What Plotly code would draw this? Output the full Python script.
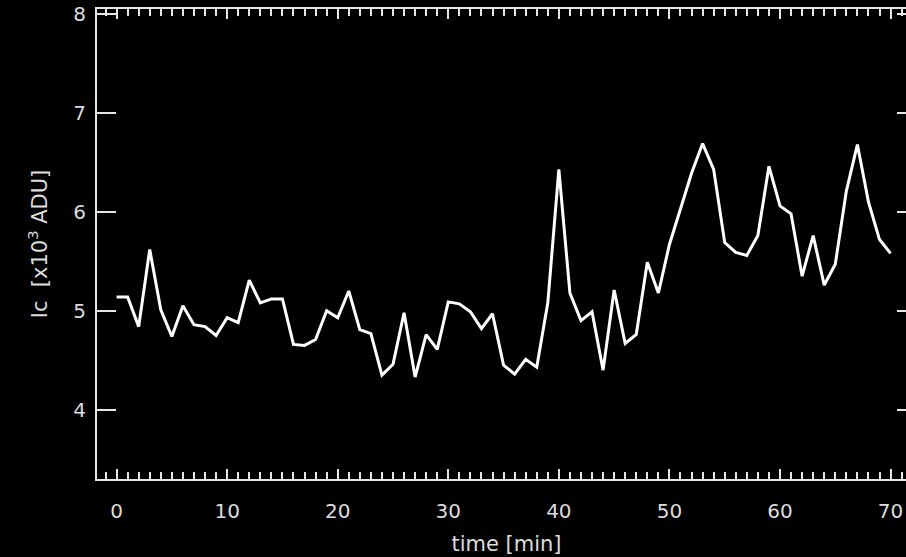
import plotly.graph_objects as go

# Continuum intensity light curve, one sample per minute
time_min = list(range(0, 71))
ic_kadu = [
    5.14, 5.14, 4.84, 5.62, 5.01, 4.74, 5.05, 4.86, 4.84, 4.75,
    4.93, 4.88, 5.31, 5.08, 5.12, 5.12, 4.66, 4.65, 4.71, 5.00,
    4.93, 5.20, 4.81, 4.77, 4.35, 4.46, 4.98, 4.33, 4.76, 4.61,
    5.09, 5.07, 4.99, 4.82, 4.97, 4.45, 4.36, 4.51, 4.43, 5.08,
    6.43, 5.18, 4.90, 4.99, 4.40, 5.21, 4.67, 4.76, 5.49, 5.18,
    5.67, 6.02, 6.39, 6.69, 6.43, 5.69, 5.59, 5.56, 5.76, 6.46,
    6.06, 5.98, 5.35, 5.76, 5.26, 5.47, 6.21, 6.68, 6.10, 5.72,
    5.58,
]

x_ticks = [0, 10, 20, 30, 40, 50, 60, 70]
y_ticks = [4, 5, 6, 7, 8]

FONT = "DejaVu Sans, sans-serif"
FG = "#e6e6e6"
TXT = "#dcdcdc"

fig = go.Figure(
    go.Scatter(
        x=time_min,
        y=ic_kadu,
        mode="lines",
        line=dict(color="white", width=3),
        hoverinfo="skip",
    )
)

fig.update_layout(
    width=930,
    height=557,
    margin=dict(l=97, r=14, t=9, b=78),
    paper_bgcolor="black",
    plot_bgcolor="black",
    showlegend=False,
    font=dict(family=FONT, size=20, color=TXT),
)

fig.update_xaxes(
    range=[-1.77, 72.3],
    tickvals=x_ticks,
    ticktext=[str(v) for v in x_ticks],
    ticks="inside",
    ticklen=10,
    tickwidth=1.5,
    tickcolor=FG,
    minor=dict(dtick=1, tick0=0, ticks="inside", ticklen=7, tickwidth=1.5, tickcolor=FG),
    showline=True,
    linecolor=FG,
    linewidth=2,
    mirror="ticks",
    showgrid=False,
    zeroline=False,
    automargin=False,
    ticklabelstandoff=13,
    tickfont=dict(family=FONT, size=20, color=TXT),
    title=dict(text="time [min]", font=dict(family=FONT, size=21, color=TXT), standoff=14),
)

fig.update_yaxes(
    range=[3.30, 8.05],
    tickvals=y_ticks,
    ticktext=[str(v) for v in y_ticks],
    ticks="inside",
    ticklen=19,
    tickwidth=1.5,
    tickcolor=FG,
    showline=True,
    linecolor=FG,
    linewidth=2,
    mirror="ticks",
    showgrid=False,
    zeroline=False,
    automargin=False,
    ticklabelstandoff=5,
    tickfont=dict(family=FONT, size=20, color=TXT),
    title=dict(text="Ic  [x10<sup>3</sup> ADU]", font=dict(family=FONT, size=21, color=TXT), standoff=20),
)

fig.write_html(
    "out.html",
    config={"displayModeBar": False},
    post_script=(
        "document.documentElement.style.overflow='hidden';"
        "document.body.style.overflow='hidden';"
        "document.body.style.margin='0';"
    ),
)
